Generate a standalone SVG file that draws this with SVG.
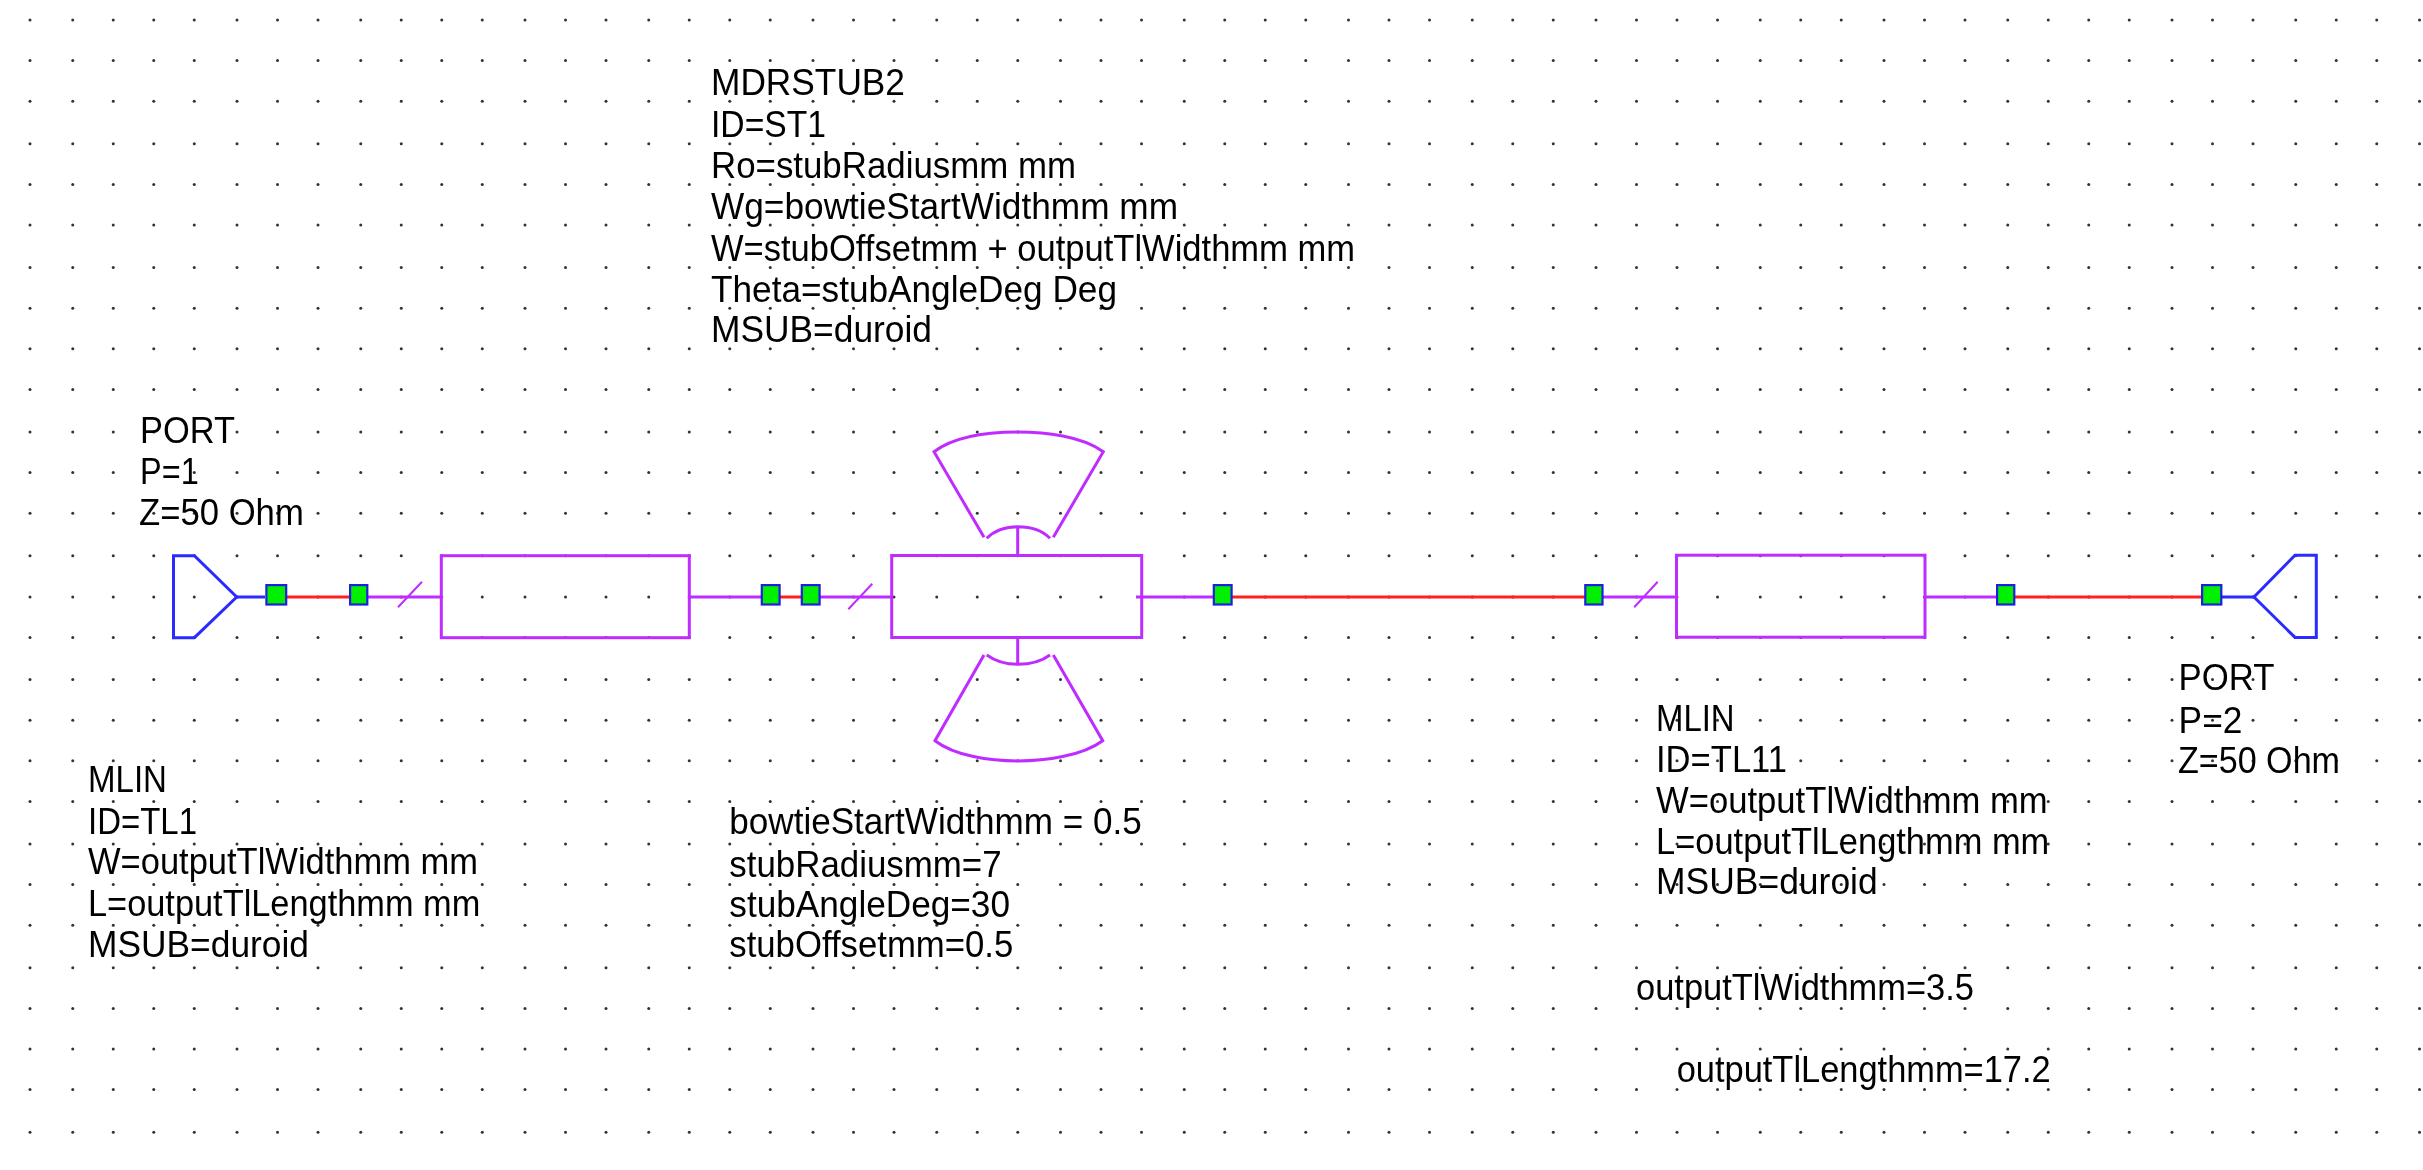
<svg xmlns="http://www.w3.org/2000/svg" width="2423" height="1170" viewBox="0 0 2423 1170">
<style>
text{font-family:"Liberation Sans",Arial,sans-serif;font-size:36px;fill:#000;filter:url(#soft)}
.l{fill:none;stroke-width:3;stroke-linejoin:miter;stroke-linecap:butt}
.m{stroke:#bf2cff}
.b{stroke:#2b2bff}
.r{stroke:#ff2020}
.j{fill:#00f000;stroke:#1f1fe0;stroke-width:2.2}
.s{stroke-width:2}
#grid{fill:#333}
</style>
<defs>
<filter id="soft" x="-5%" y="-20%" width="110%" height="140%"><feGaussianBlur stdDeviation="0.4"/></filter>
<g id="da"><circle cx="30" r="1.5"/><circle cx="72.75" r="1.5"/><circle cx="113.25" r="1.5"/><circle cx="153.75" r="1.5"/><circle cx="194.25" r="1.5"/><circle cx="237" r="1.5"/><circle cx="277.5" r="1.5"/><circle cx="318" r="1.5"/><circle cx="360.75" r="1.5"/><circle cx="401.25" r="1.5"/><circle cx="441.75" r="1.5"/><circle cx="482.25" r="1.5"/><circle cx="525" r="1.5"/><circle cx="565.5" r="1.5"/><circle cx="606" r="1.5"/><circle cx="648.75" r="1.5"/><circle cx="689.25" r="1.5"/><circle cx="729.75" r="1.5"/><circle cx="770.25" r="1.5"/><circle cx="813" r="1.5"/><circle cx="853.5" r="1.5"/><circle cx="894" r="1.5"/><circle cx="936.75" r="1.5"/><circle cx="977.25" r="1.5"/><circle cx="1017.75" r="1.5"/><circle cx="1060.5" r="1.5"/><circle cx="1101" r="1.5"/><circle cx="1141.5" r="1.5"/></g>
<g id="db"><circle cx="1224.75" r="1.5"/><circle cx="1265.25" r="1.5"/><circle cx="1305.75" r="1.5"/><circle cx="1348.5" r="1.5"/><circle cx="1389" r="1.5"/><circle cx="1429.5" r="1.5"/><circle cx="1472.25" r="1.5"/><circle cx="1512.75" r="1.5"/><circle cx="1553.25" r="1.5"/><circle cx="1596" r="1.5"/><circle cx="1636.5" r="1.5"/><circle cx="1677" r="1.5"/><circle cx="1717.5" r="1.5"/><circle cx="1760.25" r="1.5"/><circle cx="1800.75" r="1.5"/><circle cx="1841.25" r="1.5"/><circle cx="1884" r="1.5"/><circle cx="1924.5" r="1.5"/><circle cx="1965" r="1.5"/></g>
<g id="dc"><circle cx="2048.25" r="1.5"/><circle cx="2088.75" r="1.5"/><circle cx="2129.25" r="1.5"/><circle cx="2172" r="1.5"/><circle cx="2212.5" r="1.5"/><circle cx="2253" r="1.5"/><circle cx="2295.75" r="1.5"/><circle cx="2336.25" r="1.5"/><circle cx="2376.75" r="1.5"/><circle cx="2419.5" r="1.5"/></g>
<g id="row"><use href="#da"/><circle cx="1184.25" r="1.5"/><use href="#db"/><circle cx="2007.75" r="1.5"/><use href="#dc"/></g>
<g id="row16"><use href="#da"/><use href="#db"/><use href="#dc"/></g>
</defs>
<rect width="2423" height="1170" fill="#fff"/>
<g id="grid">
<use href="#row" y="20"/><use href="#row" y="60.6"/><use href="#row" y="101.2"/><use href="#row" y="143.8"/><use href="#row" y="184.4"/><use href="#row" y="225"/><use href="#row" y="267.6"/><use href="#row" y="308.2"/><use href="#row" y="348.8"/><use href="#row" y="389.4"/><use href="#row" y="432"/><use href="#row" y="472.6"/><use href="#row" y="513.2"/><use href="#row" y="555.8"/><use href="#row" y="597"/><use href="#row" y="637.4"/><use href="#row16" y="679.6"/><use href="#row" y="720.2"/><use href="#row" y="760.8"/><use href="#row" y="801.4"/><use href="#row" y="844"/><use href="#row" y="884.6"/><use href="#row" y="925.2"/><use href="#row" y="967.8"/><use href="#row" y="1008.4"/><use href="#row" y="1049"/><use href="#row" y="1089.6"/><use href="#row" y="1132.2"/>
</g>
<g id="connectors">
<path class="l r" d="M287 597H349M780 597H801M1232 597H1585M2015 597H2201"/>
<path class="l b" d="M237 597H265M2222 597H2254"/>
<path class="l m" d="M368 597H441M689 597H761M820 597H892M1136 597H1213M1603 597H1677M1925 597H1996"/>
<path class="l m s" d="M398 607.3L422 581.7M848.3 609.3L872.3 583.7M1634.2 607.3L1657.7 581.7"/>
<rect class="j" x="266.4" y="585.1" width="19.8" height="19.4"/>
<rect class="j" x="350.1" y="585.1" width="17.2" height="19.4"/>
<rect class="j" x="761.8" y="585.1" width="17.8" height="19.4"/>
<rect class="j" x="801.8" y="585.1" width="17.8" height="19.4"/>
<rect class="j" x="1213.8" y="585.1" width="17.8" height="19.4"/>
<rect class="j" x="1585.3" y="585.1" width="17.2" height="19.4"/>
<rect class="j" x="1997.1" y="585.1" width="17.2" height="19.4"/>
<rect class="j" x="2202.1" y="585.1" width="19.2" height="19.4"/>
</g>
<g id="port1">
<path class="l b" d="M194.4 555.7H173.5V637.7H194.4L236.7 597Z"/>
<text x="140" y="443.3" textLength="95" lengthAdjust="spacingAndGlyphs">PORT</text><text x="140" y="484.3" textLength="58.7" lengthAdjust="spacingAndGlyphs">P=1</text><text x="139" y="525" textLength="164.8" lengthAdjust="spacingAndGlyphs">Z=50 Ohm</text>
</g>
<g id="tl1">
<rect class="l m" x="441.3" y="555.7" width="248" height="82"/>
<text x="88" y="791.7" textLength="79" lengthAdjust="spacingAndGlyphs">MLIN</text><text x="88" y="833.5" textLength="109" lengthAdjust="spacingAndGlyphs">ID=TL1</text><text x="88" y="874.3" textLength="390" lengthAdjust="spacingAndGlyphs">W=outputTlWidthmm mm</text><text x="88" y="915.5" textLength="392.3" lengthAdjust="spacingAndGlyphs">L=outputTlLengthmm mm</text><text x="88" y="957.3" textLength="221" lengthAdjust="spacingAndGlyphs">MSUB=duroid</text>
</g>
<g id="st1">
<rect class="l m" x="891.7" y="555.5" width="250" height="82"/>
<path class="l m" d="M1017.7 555.5V526.7M986.7 538.3C995 530 1005 526.7 1017.7 526.7C1030 526.7 1042 530 1050 538.3M984 537.3L934 451.7C955 436 990 432 1017.7 432C1045 432 1082 436 1103.3 451.7L1053.3 537.3"/>
<path class="l m" d="M1017.7 637.7V664.3M986.7 655C995 661 1005 664.3 1017.7 664.3C1030 664.3 1042 661 1050 655M984 655L935 740.7C955 756 990 761 1017.7 761C1045 761 1082 756 1102.7 740.7L1053.3 655"/>
<text x="711" y="95" textLength="194" lengthAdjust="spacingAndGlyphs">MDRSTUB2</text><text x="711" y="137.3" textLength="115" lengthAdjust="spacingAndGlyphs">ID=ST1</text><text x="711" y="177.7" textLength="365" lengthAdjust="spacingAndGlyphs">Ro=stubRadiusmm mm</text><text x="711" y="219.3" textLength="467" lengthAdjust="spacingAndGlyphs">Wg=bowtieStartWidthmm mm</text><text x="711" y="260.7" textLength="644" lengthAdjust="spacingAndGlyphs">W=stubOffsetmm + outputTlWidthmm mm</text><text x="711" y="302.3" textLength="406" lengthAdjust="spacingAndGlyphs">Theta=stubAngleDeg Deg</text><text x="711" y="342.3" textLength="221" lengthAdjust="spacingAndGlyphs">MSUB=duroid</text>
</g>
<g id="equations">
<text x="729.3" y="834" textLength="412.4" lengthAdjust="spacingAndGlyphs">bowtieStartWidthmm = 0.5</text><text x="729.3" y="876.7" textLength="272.3" lengthAdjust="spacingAndGlyphs">stubRadiusmm=7</text><text x="729.3" y="917.3" textLength="280.7" lengthAdjust="spacingAndGlyphs">stubAngleDeg=30</text><text x="729.3" y="957.3" textLength="284" lengthAdjust="spacingAndGlyphs">stubOffsetmm=0.5</text>
<text x="1636" y="1000" textLength="338" lengthAdjust="spacingAndGlyphs">outputTlWidthmm=3.5</text><text x="1676.7" y="1081.7" textLength="374" lengthAdjust="spacingAndGlyphs">outputTlLengthmm=17.2</text>
</g>
<g id="tl11">
<rect class="l m" x="1676.5" y="555.2" width="248.5" height="82"/>
<text x="1656" y="730.7" textLength="78.6" lengthAdjust="spacingAndGlyphs">MLIN</text><text x="1656" y="771.7" textLength="131" lengthAdjust="spacingAndGlyphs">ID=TL11</text><text x="1656" y="813.3" textLength="391.7" lengthAdjust="spacingAndGlyphs">W=outputTlWidthmm mm</text><text x="1656" y="854.3" textLength="393.3" lengthAdjust="spacingAndGlyphs">L=outputTlLengthmm mm</text><text x="1656" y="894.3" textLength="221.7" lengthAdjust="spacingAndGlyphs">MSUB=duroid</text>
</g>
<g id="port2">
<path class="l b" d="M2295 555.3H2316.3V637.4H2295L2254 597Z"/>
<text x="2178.6" y="690" textLength="96" lengthAdjust="spacingAndGlyphs">PORT</text><text x="2178.6" y="732.7" textLength="63.8" lengthAdjust="spacingAndGlyphs">P=2</text><text x="2178" y="773.3" textLength="162" lengthAdjust="spacingAndGlyphs">Z=50 Ohm</text>
</g>
</svg>
